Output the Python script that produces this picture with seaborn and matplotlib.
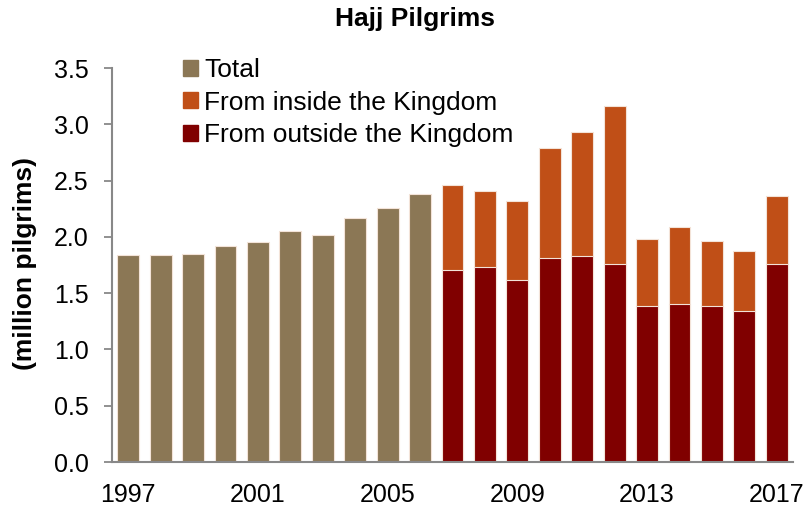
import pandas as pd
import seaborn as sns
import matplotlib.pyplot as plt
from matplotlib.patches import Patch

# ------------------- data (million pilgrims) -------------------
years = [str(y) for y in range(1997, 2018)]
early_years = years[:10]          # only the total is known
early_total = [1.84, 1.84, 1.85, 1.92, 1.95, 2.05, 2.02, 2.17, 2.26, 2.38]
late_years = years[10:]           # split inside / outside
late_total = [2.46, 2.41, 2.32, 2.79, 2.93, 3.16, 1.98, 2.09, 1.96, 1.87, 2.36]
late_outside = [1.71, 1.73, 1.62, 1.81, 1.83, 1.76, 1.39, 1.40, 1.39, 1.34, 1.76]
late_inside = [t - o for t, o in zip(late_total, late_outside)]

c_total = "#8B7755"
c_inside = "#C04F17"
c_outside = "#800000"
c_axis = "#888888"

sns.set_style("white")
plt.rcParams['font.family'] = ['Liberation Sans', 'DejaVu Sans']
plt.rcParams['text.color'] = 'black'

W, H = 812, 509
fig, ax = plt.subplots(figsize=(W / 100, H / 100), dpi=100)
fig.subplots_adjust(left=112 / W, right=793 / W, top=1 - 68 / H, bottom=1 - 462 / H)

early = pd.DataFrame({"year": early_years, "value": early_total})
late = pd.DataFrame({"year": late_years, "inside": late_inside, "outside": late_outside})
late["stack"] = late["inside"] + late["outside"]

bar_kw = dict(order=years, width=0.67, edgecolor="#f3e3d8", linewidth=0.8, saturation=1, ax=ax)
sns.barplot(data=early, x="year", y="value", color=c_total, **bar_kw)
sns.barplot(data=late, x="year", y="stack", color=c_inside, **bar_kw)
sns.barplot(data=late, x="year", y="outside", color=c_outside, **bar_kw)

# axes styling
ax.set_xlim(-0.5, len(years) - 0.5)
ax.set_ylim(0, 3.5)
ax.set_yticks([i * 0.5 for i in range(8)])
ax.set_yticklabels([f"{i * 0.5:.1f}" for i in range(8)])
shown = [i for i, y in enumerate(years) if (int(y) - 1997) % 4 == 0]
ax.set_xticks(shown)
ax.set_xticklabels([years[i] for i in shown])
ax.set_xticks([i - 0.5 for i in range(len(years) + 1)], minor=True)
ax.tick_params(axis="x", which="major", length=0, pad=15, labelsize=18, labelcolor="black")
ax.tick_params(axis="x", which="minor", length=7, width=1.3, color=c_axis, direction="out")
ax.tick_params(axis="y", length=6, width=1.3, color=c_axis, direction="out",
               labelsize=18, labelcolor="black", pad=11)
ax.xaxis.set_tick_params(bottom=True)
ax.yaxis.set_tick_params(left=True)

sns.despine(ax=ax)
for s in ["left", "bottom"]:
    ax.spines[s].set_color(c_axis)
    ax.spines[s].set_linewidth(1.5)

ax.set_xlabel("")
ax.set_ylabel("")
fig.text(25 / W, 1 - 264 / H, "(million pilgrims)", rotation=90, ha="center", va="center",
         fontsize=19, fontweight="bold")
fig.text(415 / W, 1 - 19 / H, "Hajj Pilgrims", ha="center", va="center",
         fontsize=19, fontweight="bold")

handles = [Patch(color=c_total, label="Total"),
           Patch(color=c_inside, label="From inside the Kingdom"),
           Patch(color=c_outside, label="From outside the Kingdom")]
fig.legend(handles=handles, loc="upper left", bbox_to_anchor=(183 / W, 1 - 58 / H),
           bbox_transform=fig.transFigure, frameon=False, fontsize=19,
           handlelength=0.55, handleheight=0.55, handletextpad=0.25, labelspacing=0.33,
           borderpad=0, borderaxespad=0)

fig.savefig("out.png", dpi=100)
